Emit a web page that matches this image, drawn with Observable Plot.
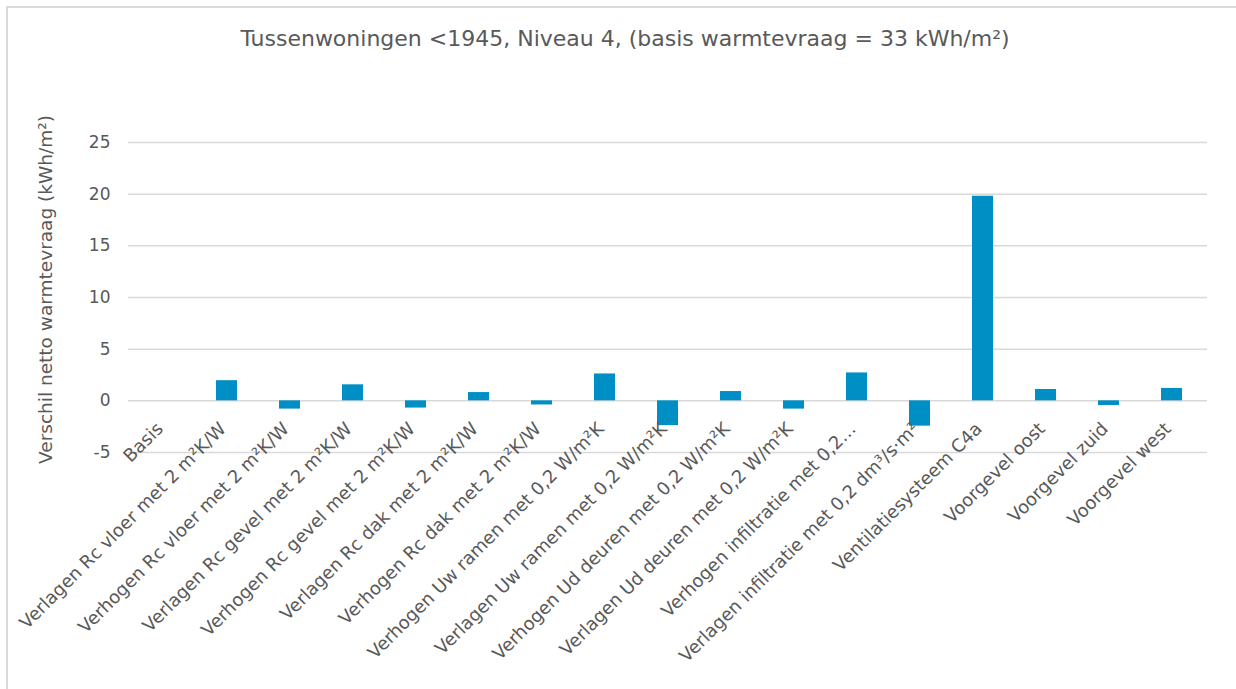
<!DOCTYPE html>
<html>
<head>
<meta charset="utf-8">
<script src="https://cdn.jsdelivr.net/npm/d3@7"></script>
<script src="https://cdn.jsdelivr.net/npm/@observablehq/plot@0.6"></script>
<style>
  html, body { margin: 0; padding: 0; background: #fff; overflow: hidden; }
  #wrap { position: relative; width: 1236px; height: 689px; overflow: hidden; }
  #frame { position: absolute; left: 6px; top: 6px; width: 1300px; height: 700px;
           border-top: 2px solid #d9d9d9; border-left: 2px solid #d9d9d9; pointer-events: none; }
  svg { font-family: "DejaVu Sans", Verdana, sans-serif; display: block; }
</style>
</head>
<body>
<div id="wrap"><div id="frame"></div></div>
<script>
const title = "Tussenwoningen <1945, Niveau 4, (basis warmtevraag = 33 kWh/m²)";
const yLabel = "Verschil netto warmtevraag (kWh/m²)";
const categories = [
  "Basis",
  "Verlagen Rc vloer met 2 m²K/W",
  "Verhogen Rc vloer met 2 m²K/W",
  "Verlagen Rc gevel met 2 m²K/W",
  "Verhogen Rc gevel met 2 m²K/W",
  "Verlagen Rc dak met 2 m²K/W",
  "Verhogen Rc dak met 2 m²K/W",
  "Verhogen Uw ramen met 0,2 W/m²K",
  "Verlagen Uw ramen met 0,2 W/m²K",
  "Verhogen Ud deuren met 0,2 W/m²K",
  "Verlagen Ud deuren met 0,2 W/m²K",
  "Verhogen infiltratie met 0,2…",
  "Verlagen infiltratie met 0,2 dm³/s·m²",
  "Ventilatiesysteem C4a",
  "Voorgevel oost",
  "Voorgevel zuid",
  "Voorgevel west"
];
const values = [0, 1.95, -0.8, 1.55, -0.7, 0.8, -0.4, 2.6, -2.4, 0.9, -0.8, 2.7, -2.45, 19.8, 1.1, -0.45, 1.2];
const yTicks = [-5, 0, 5, 10, 15, 20, 25];

const data = categories.map((c, i) => ({category: c, value: values[i]}));
const grey = "#595959";

const chart = Plot.plot({
  width: 1236,
  height: 689,
  marginLeft: 128,
  marginRight: 29,
  marginTop: 142,
  marginBottom: 237,
  style: {fontFamily: "DejaVu Sans, Verdana, sans-serif", color: grey, background: "transparent"},
  x: {domain: categories, paddingInner: 0.66, paddingOuter: 0.33, axis: null},
  y: {domain: [-5, 25], ticks: yTicks, axis: null},
  marks: [
    Plot.ruleY(yTicks, {stroke: "#d9d9d9", strokeWidth: 1.5}),
    Plot.barY(data, {x: "category", y: "value", fill: "#008fc4"}),
    Plot.axisY(yTicks, {tickSize: 0, tickPadding: 18, fontSize: 17, fill: grey, label: null,
      tickFormat: d => String(d)}),
    Plot.text(categories, {x: d => d, y: () => 0, rotate: -45, textAnchor: "end", lineAnchor: "middle",
      dx: -4, dy: 25, fontSize: 18, fill: grey}),
    Plot.text([title], {frameAnchor: "top", textAnchor: "middle", dx: -43, dy: -104, fontSize: 22, fill: grey, lineAnchor: "middle"}),
    Plot.text([yLabel], {frameAnchor: "left", textAnchor: "middle", rotate: -90, dx: -82, dy: -8, fontSize: 18.5, fill: grey, lineAnchor: "middle"})
  ]
});
document.getElementById("wrap").prepend(chart);
</script>
</body>
</html>
